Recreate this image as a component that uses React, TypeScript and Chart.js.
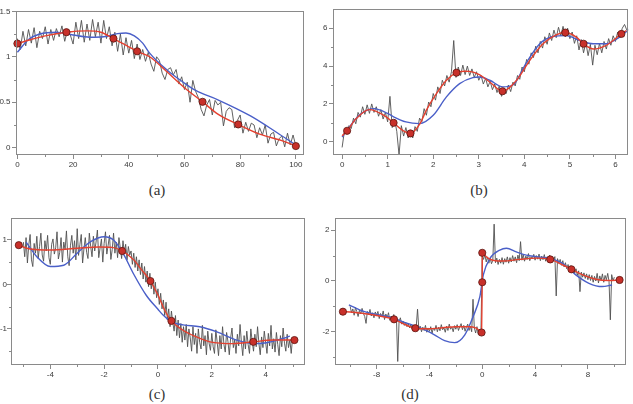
import { useEffect, useRef } from 'react';
import { Chart, registerables } from 'chart.js';

Chart.register(...registerables);

// ---------- panel (a) ----------
const aGreyStart = 0;
const aGreyStep = 1;
const aGreyY = [
  1.2, 1.08, 1.28, 1.12, 1.3, 1.15, 1.32, 1.1, 1.28, 1.2,
  1.33, 1.14, 1.3, 1.18, 1.31, 1.22, 1.34, 1.17, 1.3, 1.24,
  1.14, 1.38, 1.2, 1.4, 1.16, 1.36, 1.18, 1.41, 1.22, 1.38,
  1.15, 1.4, 1.2, 1.33, 1.12, 1.27, 1.06, 1.25, 1.02, 1.21,
  1.04, 1.18, 0.98, 1.14, 0.97, 1.08, 0.95, 1.05, 0.92, 0.84,
  1.0, 0.96, 0.82, 0.75, 0.86, 0.88, 0.8, 0.86, 0.7, 0.78,
  0.64, 0.72, 0.5, 0.74, 0.62, 0.55, 0.42, 0.35, 0.47, 0.53,
  0.36, 0.52, 0.47, 0.5, 0.24, 0.4, 0.44, 0.42, 0.22, 0.3,
  0.36, 0.16, 0.28, 0.18, 0.27, 0.25, 0.11, 0.22, 0.14, 0.25,
  0.05, 0.15, 0.17, 0.02, 0.1, 0.13, 0.01, 0.16, 0.03, 0.14,
  0.02,
];
const aRedX = [0, 5, 10, 17.6, 25, 30, 34.5, 40, 43, 47.5, 53.5, 60, 66.5, 72, 79.3, 87, 95.7, 100];
const aRedY = [1.145, 1.19, 1.23, 1.27, 1.285, 1.27, 1.2, 1.11, 1.06, 1.0, 0.84, 0.66, 0.505, 0.37, 0.256, 0.15, 0.07, 0.018];
const aBlueX = [0, 4, 8, 14, 20, 26, 31, 36, 39, 42, 45, 47.5, 53.5, 60, 64, 71.8, 83.7, 93.3, 99.5];
const aBlueY = [1.05, 1.19, 1.25, 1.27, 1.24, 1.215, 1.22, 1.255, 1.262, 1.23, 1.15, 1.04, 0.86, 0.71, 0.63, 0.53, 0.35, 0.165, 0.04];
const aDotX = [0, 17.6, 34.5, 43, 66.5, 79.3, 100];
const aDotY = [1.145, 1.27, 1.2, 1.06, 0.505, 0.256, 0.018];
const aXTicks = [0, 20, 40, 60, 80, 100];
const aYTicks = [0, 0.5, 1, 1.5];
const aXMinor = [10, 30, 50, 70, 90];
const aYMinor = [0.25, 0.75, 1.25];

// ---------- panel (b) ----------
const bGreyStart = 0;
const bGreyStep = 0.05;
const bGreyY = [
  -0.3, 0.55, 0.4, 0.85, 0.7, 1.25, 0.95, 1.55, 1.3, 1.85,
  1.45, 1.95, 1.5, 2.0, 1.55, 1.85, 1.35, 1.7, 1.2, 1.55,
  1.05, 2.4, 0.75, 1.2, 0.55, -0.7, 0.85, 0.3, 0.75, 0.2,
  0.6, 0.2, 0.8, 0.55, 1.25, 1.05, 1.75, 1.4, 2.1, 1.85,
  2.55, 2.2, 2.9, 2.55, 3.25, 2.95, 3.5, 3.15, 3.7, 5.35,
  3.4, 3.95, 3.5, 4.05, 3.55, 4.0, 3.5, 3.85, 3.4, 3.7,
  3.25, 3.5, 3.05, 3.35, 2.9, 3.2, 2.75, 3.05, 2.6, 2.95,
  2.4, 2.85, 2.55, 3.0, 2.65, 3.15, 2.95, 3.5, 3.3, 3.95,
  3.7, 4.35, 4.1, 4.7, 4.45, 5.05, 4.7, 5.3, 4.95, 5.55,
  5.15, 5.75, 5.35, 5.9, 5.5, 6.05, 5.6, 6.1, 5.55, 6.0,
  5.45, 5.8, 5.2, 5.6, 4.85, 5.4, 4.7, 5.25, 4.55, 5.15,
  4.05, 5.1, 4.6, 5.2, 4.7, 5.3, 4.9, 5.45, 5.1, 5.6,
  5.3, 5.8, 5.5, 6.0, 6.2, 5.9,
];
const bRedX = [0, 0.11, 0.3, 0.6, 0.9, 1.13, 1.3, 1.5, 1.71, 1.85, 2.07, 2.29, 2.51, 2.68, 2.8, 3.0, 3.24, 3.52, 3.83, 4.12, 4.41, 4.7, 4.9, 5.14, 5.3, 5.52, 5.8, 6.13, 6.24];
const bRedY = [0.32, 0.58, 1.2, 1.7, 1.42, 1.0, 0.65, 0.44, 0.96, 1.67, 2.54, 3.25, 3.65, 3.73, 3.72, 3.56, 3.16, 2.67, 3.25, 4.3, 5.18, 5.65, 5.77, 5.53, 5.18, 4.9, 5.1, 5.7, 5.88];
const bBlueX = [0, 0.15, 0.4, 0.7, 1.0, 1.13, 1.4, 1.7, 2.0, 2.29, 2.58, 2.87, 3.02, 3.24, 3.53, 3.75, 4.05, 4.34, 4.63, 4.92, 5.22, 5.51, 5.8, 6.09, 6.31];
const bBlueY = [0.25, 0.75, 1.45, 1.75, 1.5, 1.32, 1.05, 0.96, 1.4, 2.37, 3.07, 3.39, 3.42, 3.25, 2.9, 3.0, 4.2, 5.18, 5.56, 5.61, 5.35, 5.18, 5.18, 5.53, 5.96];
const bDotX = [0.11, 1.13, 1.5, 2.51, 3.52, 4.9, 5.3, 6.13];
const bDotY = [0.58, 1.0, 0.44, 3.65, 2.67, 5.77, 5.18, 5.7];
const bXTicks = [0, 1, 2, 3, 4, 5, 6];
const bYTicks = [0, 2, 4, 6];
const bXMinor = [0.5, 1.5, 2.5, 3.5, 4.5, 5.5];
const bYMinor = [1, 3, 5];

// ---------- panel (c) ----------
const cGreyStart = -5;
const cGreyStep = 0.05;
const cGreyY = [
  0.95, 0.62, 1.05, 0.48, 0.88, 1.12, 0.55, 0.4, 0.92, 0.7, 1.08, 0.58, 0.85, 1.15, 0.66, 0.52, 0.98, 0.75, 1.1, 0.6,
  0.45, 0.9, 1.02, 0.68, 0.82, 1.18, 0.57, 0.72, 1.05, 0.5, 0.95, 0.78, 1.2, 0.62, 0.42, 0.88, 1.1, 0.7, 0.98, 0.55,
  1.25, 0.65, 0.9, 1.12, 0.48, 0.8, 1.05, 0.72, 0.58, 1.15, 0.85, 0.62, 1.08, 0.75, 0.95, 1.22, 0.6, 0.82, 1.02, 0.5,
  0.92, 1.18, 0.68, 0.88, 1.1, 0.56, 0.78, 1.15, 0.7, 0.95, 0.6, 1.05, 0.82, 0.58, 0.98, 0.72, 0.9, 0.55, 0.85, 0.66,
  0.75, 0.45, 0.7, 0.38, 0.62, 0.3, 0.55, 0.22, 0.48, 0.12, 0.4, 0.05, 0.3, -0.05, 0.25, -0.1, 0.12, -0.22, 0.05, -0.3,
  -0.1, -0.45, -0.2, -0.55, -0.35, -0.7, -0.4, -0.8, -0.55, -0.95, -0.6, -0.85, -1.05, -0.7, -1.15, -0.8, -1.2, -0.88, -1.3, -0.95,
  -1.25, -0.9, -1.4, -1.0, -1.2, -1.5, -0.95, -1.35, -1.1, -1.55, -1.0, -1.3, -1.45, -0.92, -1.38, -1.15, -1.58, -1.05, -1.32, -1.48,
  -1.1, -1.4, -1.55, -1.02, -1.3, -1.6, -1.15, -1.45, -0.95, -1.35, -1.52, -1.08, -1.28, -1.58, -1.2, -0.98, -1.42, -1.25, -1.55, -1.12,
  -1.38, -0.9, -1.3, -1.6, -1.15, -1.45, -1.05, -1.35, -1.55, -1.0, -1.28, -1.5, -1.12, -1.4, -0.95, -1.32, -1.58, -1.18, -1.42, -1.05,
  -1.3, -1.55, -1.1, -1.38, -0.92, -1.45, -1.22, -1.52, -1.08, -1.35, -1.6, -1.15, -1.4, -0.98, -1.32, -1.5, -1.12, -1.42, -1.25, -1.55, -1.2,
];
const cRedX = [-5.17, -4.8, -4.0, -3.0, -2.2, -1.7, -1.33, -0.9, -0.6, -0.28, 0, 0.25, 0.5, 0.93, 1.43, 1.93, 2.8, 3.54, 4.29, 5.07];
const cRedY = [0.88, 0.8, 0.77, 0.81, 0.84, 0.83, 0.75, 0.55, 0.32, 0.075, -0.24, -0.58, -0.82, -1.03, -1.18, -1.29, -1.33, -1.29, -1.25, -1.25];
const cBlueX = [-4.9, -4.5, -4.0, -3.5, -3.0, -2.5, -2.0, -1.66, -1.3, -0.92, -0.43, 0, 0.19, 0.5, 0.93, 1.55, 2.17, 2.92, 3.54, 4.04, 4.66, 4.9];
const cBlueY = [0.95, 0.62, 0.4, 0.43, 0.7, 0.96, 1.07, 1.0, 0.7, 0.25, -0.25, -0.56, -0.69, -0.84, -0.91, -0.95, -1.06, -1.25, -1.33, -1.31, -1.21, -1.16];
const cDotX = [-5.17, -1.33, -0.28, 0.5, 3.54, 5.07];
const cDotY = [0.88, 0.75, 0.075, -0.82, -1.29, -1.25];
const cXTicks = [-4, -2, 0, 2, 4];
const cYTicks = [-1, 0, 1];
const cXMinor = [-5, -3, -1, 1, 3, 5];
const cYMinor = [-1.5, -0.5, 0.5];

// ---------- panel (d) ----------
const dGreyStart = -10;
const dGreyStep = 0.1;
const dGreyY = [
  -1.0, -1.25, -1.1, -1.35, -1.05, -1.2, -1.4, -1.15, -1.3, -1.08, -1.28, -1.4, -1.67, -1.2, -1.32, -1.12, -1.38, -1.25, -1.45, -1.22,
  -1.35, -1.2, -1.48, -1.28, -1.4, -1.18, -1.52, -1.3, -1.45, -1.25, -1.55, -1.38, -1.48, -1.32, -1.58, -1.42, -3.17, -1.6, -1.45, -1.7,
  -1.58, -1.75, -1.62, -1.8, -1.68, -1.85, -1.72, -1.9, -1.78, -1.95, -1.8, -1.11, -1.92, -1.78, -2.0, -1.82, -1.95, -1.75, -2.02, -1.85,
  -1.98, -1.8, -2.05, -1.85, -1.95, -1.75, -2.0, -1.82, -1.96, -1.72, -1.92, -1.85, -2.02, -1.78, -1.95, -1.7, -1.9, -1.82, -2.0, -1.76,
  -1.9, -1.72, -1.95, -1.8, -1.68, -1.92, -1.75, -1.98, -1.82, -1.7, -1.95, -1.78, -2.0, -0.72, -1.85, -2.05, -1.8, -2.1, -1.9, -2.05,
  1.0, 0.85, 1.05, 0.75, 0.95, 0.7, 0.9, 0.68, 0.82, 2.24, 0.72, 0.9, 0.65, 0.85, 0.7, 0.92, 0.66, 0.88, 0.74, 0.95,
  0.7, 0.92, 0.75, 1.0, 0.78, 0.95, 0.72, 1.02, 0.8, 1.55, 0.82, 1.05, 0.78, 0.98, 0.85, 1.08, 0.8, 0.96, 0.88, 1.05,
  0.82, 1.0, 0.86, 1.06, 0.8, 0.98, 0.84, 1.04, 0.78, 0.95, 0.85, 1.02, 0.72, 0.92, 0.8, 0.96, -0.59, 0.88, 0.7, 0.85,
  0.62, 0.8, 0.55, 0.72, 0.48, 0.65, 0.42, 0.6, 0.35, 0.52, 0.3, 0.48, 0.22, 0.4, -0.42, 0.35, 0.15, 0.32, 0.1, 0.28,
  0.05, 0.25, 0.02, 0.22, -0.05, 0.18, 0.0, 0.3, -0.08, 0.2, 0.02, 0.28, -0.05, 0.22, 0.05, 0.3, -0.02, -1.53, 0.25, 0.0, 0.15,
];
const dRedLeftX = [-10.55, -10, -9, -8, -6.68, -6, -5.07, -4, -3, -2, -1, -0.5, -0.05];
const dRedLeftY = [-1.21, -1.22, -1.28, -1.36, -1.51, -1.68, -1.86, -1.88, -1.84, -1.8, -1.8, -1.85, -2.03];
const dRedJumpX = [-0.05, 0, 0];
const dRedJumpY = [-2.03, -0.05, 1.11];
const dRedRightX = [0, 0.5, 1, 1.6, 2.8, 4.1, 5.15, 6.1, 6.75, 7.6, 8.6, 9.6, 10.4];
const dRedRightY = [1.11, 0.88, 0.8, 0.79, 0.85, 0.9, 0.85, 0.63, 0.46, 0.24, 0.07, 0.02, 0.04];
const dBlueX = [-10.1, -8.97, -7.18, -5.66, -4.64, -3.62, -2.85, -2.09, -1.32, -0.69, -0.18, 0.08, 0.58, 1.33, 1.83, 2.58, 3.33, 4.08, 5.08, 6.08, 7.08, 8.08, 9.08, 9.83];
const dBlueY = [-0.94, -1.2, -1.4, -1.67, -1.86, -2.12, -2.35, -2.43, -2.12, -1.4, -0.62, 0.24, 0.89, 1.22, 1.29, 1.15, 1.02, 0.96, 0.89, 0.7, 0.24, -0.09, -0.22, -0.16];
const dDotX = [-10.55, -6.68, -5.07, -0.05, 0, 0, 5.15, 6.75, 10.4];
const dDotY = [-1.21, -1.51, -1.86, -2.03, -0.05, 1.11, 0.85, 0.46, 0.04];
const dXTicks = [-8, -4, 0, 4, 8];
const dYTicks = [-2, 0, 2];
const dXMinor = [-10, -6, -2, 2, 6, 10];
const dYMinor = [-3, -1, 1];

// ---------- styling ----------
const GREY = '#505050';
const RED = '#e5402f';
const BLUE = '#4a5fc8';
const DOT_FILL = '#c8302a';
const DOT_EDGE = '#5a1510';
const FRAME = '#8a8a8a';
const TICK_TEXT = '#3a3a3a';
const TICK_FONT = { family: '"Liberation Sans", Arial, sans-serif', size: 8 };

type Pt = { x: number; y: number };
const pairs = (xs: number[], ys: number[]): Pt[] => xs.map((x, i) => ({ x, y: ys[i] }));
const stepped = (x0: number, step: number, ys: number[]): Pt[] =>
  ys.map((y, i) => ({ x: Math.round((x0 + i * step) * 1e4) / 1e4, y }));

const greyDs = (data: Pt[]) => ({ data, borderColor: GREY, borderWidth: 0.9, pointRadius: 0, tension: 0, order: 3 });
const smoothDs = (data: Pt[], color: string, order: number) => ({
  data, borderColor: color, borderWidth: 1.4, pointRadius: 0, cubicInterpolationMode: 'monotone', order,
});
const straightDs = (data: Pt[], color: string, order: number) => ({
  data, borderColor: color, borderWidth: 1.4, pointRadius: 0, tension: 0, order,
});
const dotDs = (data: Pt[]) => ({
  data, showLine: false, pointRadius: 3.6, pointBackgroundColor: DOT_FILL,
  pointBorderColor: DOT_EDGE, pointBorderWidth: 0.8, order: 0, clip: false,
});

// frame around the plot area plus short minor ticks on the left and bottom axes
const framePlugin = {
  id: 'frame',
  afterDraw(chart: any, _args: any, opts: any) {
    const { ctx, chartArea: a, scales } = chart;
    ctx.save();
    ctx.strokeStyle = FRAME;
    ctx.lineWidth = 1;
    const l = Math.round(a.left) + 0.5;
    const t = Math.round(a.top) + 0.5;
    const r = Math.round(a.right) - 0.5;
    const b = Math.round(a.bottom) - 0.5;
    ctx.strokeRect(l, t, r - l, b - t);
    ctx.beginPath();
    for (const v of opts.xMinor || []) {
      const px = Math.round(scales.x.getPixelForValue(v)) + 0.5;
      ctx.moveTo(px, b);
      ctx.lineTo(px, b + 2.5);
    }
    for (const v of opts.yMinor || []) {
      const py = Math.round(scales.y.getPixelForValue(v)) + 0.5;
      ctx.moveTo(l, py);
      ctx.lineTo(l - 2.5, py);
    }
    ctx.stroke();
    ctx.restore();
  },
};

type PanelSpec = {
  box: [number, number, number, number]; // left, top, right, bottom of the plot frame on the page
  yAxisWidth: number;
  yLabelPad: number;
  xRange: [number, number];
  yRange: [number, number];
  xTicks: number[];
  yTicks: number[];
  xMinor: number[];
  yMinor: number[];
  datasets: any[];
};

const PAD_TOP = 6;
const PAD_RIGHT = 4;
const X_AXIS_H = 16;

const panels: PanelSpec[] = [
  {
    box: [16, 11, 305, 155], yAxisWidth: 16, yLabelPad: 1.5, xRange: [-0.5, 103], yRange: [-0.08, 1.5],
    xTicks: aXTicks, yTicks: aYTicks, xMinor: aXMinor, yMinor: aYMinor,
    datasets: [
      greyDs(stepped(aGreyStart, aGreyStep, aGreyY)),
      smoothDs(pairs(aBlueX, aBlueY), BLUE, 2),
      smoothDs(pairs(aRedX, aRedY), RED, 1),
      dotDs(pairs(aDotX, aDotY)),
    ],
  },
  {
    box: [333, 9, 629, 155], yAxisWidth: 16, yLabelPad: 1.5, xRange: [-0.2, 6.28], yRange: [-0.7, 7],
    xTicks: bXTicks, yTicks: bYTicks, xMinor: bXMinor, yMinor: bYMinor,
    datasets: [
      greyDs(stepped(bGreyStart, bGreyStep, bGreyY)),
      smoothDs(pairs(bBlueX, bBlueY), BLUE, 2),
      smoothDs(pairs(bRedX, bRedY), RED, 1),
      dotDs(pairs(bDotX, bDotY)),
    ],
  },
  {
    box: [11, 218, 306, 365], yAxisWidth: 11, yLabelPad: 0, xRange: [-5.46, 5.47], yRange: [-1.81, 1.49],
    xTicks: cXTicks, yTicks: cYTicks, xMinor: cXMinor, yMinor: cYMinor,
    datasets: [
      greyDs(stepped(cGreyStart, cGreyStep, cGreyY)),
      smoothDs(pairs(cBlueX, cBlueY), BLUE, 2),
      smoothDs(pairs(cRedX, cRedY), RED, 1),
      dotDs(pairs(cDotX, cDotY)),
    ],
  },
  {
    box: [335, 218, 627, 365], yAxisWidth: 16, yLabelPad: 1.5, xRange: [-11.15, 10.9], yRange: [-3.31, 2.47],
    xTicks: dXTicks, yTicks: dYTicks, xMinor: dXMinor, yMinor: dYMinor,
    datasets: [
      greyDs(stepped(dGreyStart, dGreyStep, dGreyY)),
      smoothDs(pairs(dBlueX, dBlueY), BLUE, 2),
      smoothDs(pairs(dRedLeftX, dRedLeftY), RED, 1),
      straightDs(pairs(dRedJumpX, dRedJumpY), RED, 1),
      smoothDs(pairs(dRedRightX, dRedRightY), RED, 1),
      dotDs(pairs(dDotX, dDotY)),
    ],
  },
];

const captions = [
  { text: '(a)', x: 157, y: 190 },
  { text: '(b)', x: 479, y: 190 },
  { text: '(c)', x: 157, y: 394 },
  { text: '(d)', x: 410, y: 394 },
];

function Panel({ spec }: { spec: PanelSpec }) {
  const ref = useRef<HTMLCanvasElement>(null);
  const [l, t, r, b] = spec.box;
  const width = spec.yAxisWidth + (r - l) + PAD_RIGHT;
  const height = PAD_TOP + (b - t) + X_AXIS_H;

  useEffect(() => {
    if (!ref.current) return;
    const tickOpts = { font: TICK_FONT, color: TICK_TEXT, autoSkip: false, maxRotation: 0, callback: (v: any) => String(v) };
    const gridOpts = { drawOnChartArea: false, tickLength: 4, color: FRAME, lineWidth: 1 };
    const chart = new Chart(ref.current, {
      type: 'line',
      data: { datasets: spec.datasets },
      plugins: [framePlugin],
      options: {
        animation: false,
        responsive: false,
        devicePixelRatio: 1,
        events: [],
        layout: { padding: { left: 0, top: PAD_TOP, right: PAD_RIGHT, bottom: 0 } },
        plugins: {
          legend: { display: false },
          tooltip: { enabled: false },
          frame: { xMinor: spec.xMinor, yMinor: spec.yMinor },
        } as any,
        scales: {
          x: {
            type: 'linear',
            min: spec.xRange[0],
            max: spec.xRange[1],
            afterBuildTicks: (s: any) => { s.ticks = spec.xTicks.map((value) => ({ value })); },
            afterFit: (s: any) => { s.height = X_AXIS_H; },
            ticks: { ...tickOpts, padding: 1 },
            grid: gridOpts,
            border: { display: false },
          },
          y: {
            type: 'linear',
            min: spec.yRange[0],
            max: spec.yRange[1],
            afterBuildTicks: (s: any) => { s.ticks = spec.yTicks.map((value) => ({ value })); },
            afterFit: (s: any) => { s.width = spec.yAxisWidth; },
            ticks: { ...tickOpts, padding: spec.yLabelPad },
            grid: gridOpts,
            border: { display: false },
          },
        },
      } as any,
    });
    return () => chart.destroy();
  }, [spec]);

  return (
    <canvas
      ref={ref}
      width={width}
      height={height}
      style={{ position: 'absolute', left: l - spec.yAxisWidth, top: t - PAD_TOP, width, height }}
    />
  );
}

export default function App() {
  return (
    <div style={{ position: 'absolute', left: 0, top: 0, width: 633, height: 404, background: '#fff', overflow: 'hidden' }}>
      {panels.map((p, i) => (
        <Panel key={i} spec={p} />
      ))}
      {captions.map((c) => (
        <div
          key={c.text}
          style={{
            position: 'absolute', left: c.x - 30, top: c.y - 10, width: 60, height: 20, lineHeight: '20px',
            textAlign: 'center', fontFamily: '"Liberation Serif", "Times New Roman", serif', fontSize: 15, color: '#333',
          }}
        >
          {c.text}
        </div>
      ))}
    </div>
  );
}
